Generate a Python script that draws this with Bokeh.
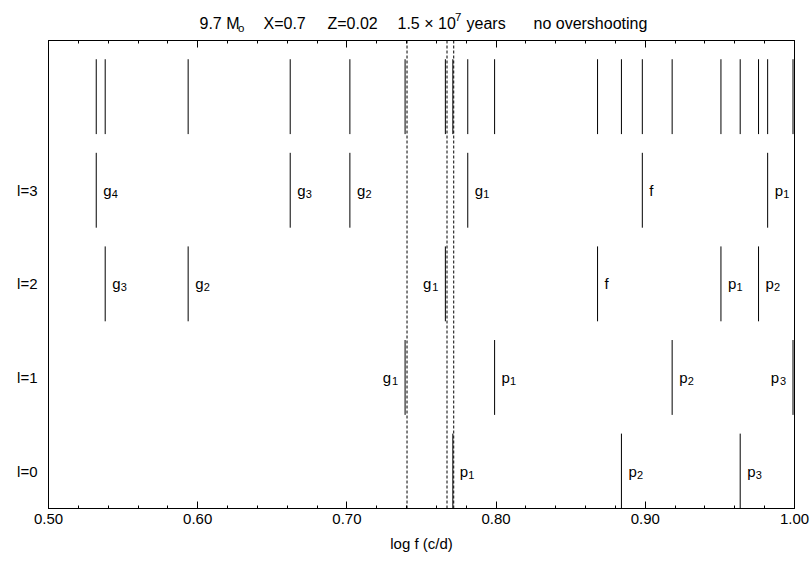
from bokeh.plotting import figure
from bokeh.layouts import column
from bokeh.models import (LinearAxis, FixedTicker, SingleIntervalTicker,
                          Range1d, ColumnDataSource, NumeralTickFormatter)
from bokeh.embed import file_html
from bokeh.resources import INLINE
from bokeh.core.properties import value

FONT = "Liberation Sans"

# ---- data: log f (c/d) of the modes, per spherical degree l ----
l0_freq = [0.771, 0.884, 0.9636]
l0_kind = ["p", "p", "p"]
l0_order = ["1", "2", "3"]
l0_side = ["right", "right", "right"]

l1_freq = [0.739, 0.799, 0.918, 0.999]
l1_kind = ["g", "p", "p", "p"]
l1_order = ["1", "1", "2", "3"]
l1_side = ["left", "right", "right", "left"]

l2_freq = [0.538, 0.5936, 0.766, 0.868, 0.9507, 0.9759]
l2_kind = ["g", "g", "g", "f", "p", "p"]
l2_order = ["3", "2", "1", "", "1", "2"]
l2_side = ["right", "right", "left", "right", "right", "right"]

l3_freq = [0.532, 0.662, 0.702, 0.781, 0.898, 0.982]
l3_kind = ["g", "g", "g", "g", "f", "p"]
l3_order = ["4", "3", "2", "1", "", "1"]
l3_side = ["right", "right", "right", "right", "right", "right"]

observed_freq = [0.7403, 0.7671, 0.7716]

row_labels = ["l=0", "l=1", "l=2", "l=3"]

# title pieces: (text, role) where role is main / sub / sup
title_texts = ["9.7 M", "o", "X=0.7", "Z=0.02", "1.5 \u00d7 10", "7", "years",
               "no overshooting"]
title_roles = ["main", "sub", "main", "main", "main", "sup", "main", "main"]

degrees = [
    (l0_freq, l0_kind, l0_order, l0_side),
    (l1_freq, l1_kind, l1_order, l1_side),
    (l2_freq, l2_kind, l2_order, l2_side),
    (l3_freq, l3_kind, l3_order, l3_side),
]

ROW_H = 0.8
ALL_ROW = 4
FW, FH = 746, 468
LEFT, RIGHT = 48, 17

# ================= title strip =================
t = figure(frame_width=FW, frame_height=32, output_backend="svg",
           toolbar_location=None, x_range=Range1d(0.5, 1.0),
           y_range=Range1d(0, 32), min_border_left=LEFT,
           min_border_right=RIGHT, min_border_top=0, min_border_bottom=0,
           x_axis_location=None, y_axis_location=None)
t.xgrid.visible = False
t.ygrid.visible = False
t.outline_line_color = None

# horizontal placement (page pixels) of each piece, converted to data
title_px = [199, 237.5, 263, 327, 397, 454.5, 466, 533]
role_dy = {"main": 0, "sub": -4, "sup": 7}
role_fs = {"main": "16px", "sub": "11.5px", "sup": "11.5px"}
for txt, role, px in zip(title_texts, title_roles, title_px):
    t.text(x=[0.5 + (px - LEFT) / (FW / 0.5)], y=[32 - 23 + role_dy[role]],
           text=[txt], text_align="left", text_baseline="alphabetic",
           text_font=value(FONT), text_font_size=role_fs[role],
           text_color="black")

# ================= main chart =================
p = figure(frame_width=FW, frame_height=FH, output_backend="svg",
           toolbar_location=None, x_range=Range1d(0.5, 1.0),
           y_range=Range1d(0, 5), min_border_left=LEFT,
           min_border_right=RIGHT, min_border_top=8, min_border_bottom=53,
           x_axis_location=None, y_axis_location=None)
p.xgrid.visible = False
p.ygrid.visible = False
p.outline_line_color = "black"
p.outline_line_width = 1

# bottom axis
xb = LinearAxis(ticker=SingleIntervalTicker(interval=0.1, num_minor_ticks=5),
                formatter=NumeralTickFormatter(format="0.00"),
                axis_label="log f (c/d)")
xb.major_tick_in = 7
xb.major_tick_out = 0
xb.minor_tick_in = 3
xb.minor_tick_out = 0
xb.axis_line_color = "black"
xb.major_tick_line_color = "black"
xb.minor_tick_line_color = "black"
xb.major_label_text_font = FONT
xb.major_label_text_font_size = "15px"
xb.major_label_text_color = "black"
xb.major_label_standoff = 5
xb.axis_label_text_font = FONT
xb.axis_label_text_font_size = "15px"
xb.axis_label_text_font_style = "normal"
xb.axis_label_text_color = "black"
xb.axis_label_standoff = 8
p.add_layout(xb, "below")

# top axis (ticks only)
xt = LinearAxis(ticker=SingleIntervalTicker(interval=0.1, num_minor_ticks=5),
                major_label_text_color=None)
xt.major_tick_in = 7
xt.major_tick_out = 0
xt.minor_tick_in = 3
xt.minor_tick_out = 0
xt.major_label_standoff = 0
xt.major_label_text_font_size = "1px"
xt.axis_line_color = "black"
p.add_layout(xt, "above")

# left axis with row names
yl = LinearAxis(ticker=FixedTicker(ticks=[i + ROW_H / 2 for i in range(4)]))
yl.major_label_overrides = {i + ROW_H / 2: row_labels[i] for i in range(4)}
yl.major_tick_in = 0
yl.major_tick_out = 0
yl.minor_tick_in = 0
yl.minor_tick_out = 0
yl.axis_line_color = "black"
yl.major_label_text_font = FONT
yl.major_label_text_font_size = "15px"
yl.major_label_text_color = "black"
yl.major_label_standoff = 11
p.add_layout(yl, "left")

# mode lines and labels
xs, y0s, y1s = [], [], []
m_x, m_y, m_txt, m_off, m_align = [], [], [], [], []
s_x, s_y, s_txt, s_off, s_align = [], [], [], [], []
all_freq = []
for l, (freq, kind, order, side) in enumerate(degrees):
    for f, k, o, s in zip(freq, kind, order, side):
        xs.append(f)
        y0s.append(l)
        y1s.append(l + ROW_H)
        all_freq.append(f)
        m_x.append(f)
        m_y.append(l + ROW_H / 2)
        m_txt.append(k)
        if s == "right":
            m_off.append(7)
            m_align.append("left")
        else:
            m_off.append(-14)
            m_align.append("right")
        if o:
            s_x.append(f)
            s_y.append(l + ROW_H / 2)
            s_txt.append(o)
            if s == "right":
                s_off.append(15.5)
                s_align.append("left")
            else:
                s_off.append(-7)
                s_align.append("right")

p.segment(x0="x", y0="y0", x1="x", y1="y1",
          source=ColumnDataSource(dict(x=xs, y0=y0s, y1=y1s)),
          line_color="black", line_width=1)

p.segment(x0="x", y0="y0", x1="x", y1="y1",
          source=ColumnDataSource(dict(x=all_freq,
                                       y0=[ALL_ROW] * len(all_freq),
                                       y1=[ALL_ROW + ROW_H] * len(all_freq))),
          line_color="black", line_width=1)

p.segment(x0="x", y0="y0", x1="x", y1="y1",
          source=ColumnDataSource(dict(x=observed_freq,
                                       y0=[0] * len(observed_freq),
                                       y1=[5] * len(observed_freq))),
          line_color="black", line_width=1, line_dash="3 2")

p.text(x="x", y="y", text="t", x_offset="off", y_offset=0,
       text_align="al", text_baseline="alphabetic",
       source=ColumnDataSource(dict(x=m_x, y=m_y, t=m_txt, off=m_off,
                                    al=m_align)),
       text_font=value(FONT), text_font_size="15px", text_color="black")
p.text(x="x", y="y", text="t", x_offset="off", y_offset=3.5,
       text_align="al", text_baseline="alphabetic",
       source=ColumnDataSource(dict(x=s_x, y=s_y, t=s_txt, off=s_off,
                                    al=s_align)),
       text_font=value(FONT), text_font_size="11px", text_color="black")

layout = column(t, p, spacing=0)
open("out.html", "w").write(file_html(layout, INLINE))
